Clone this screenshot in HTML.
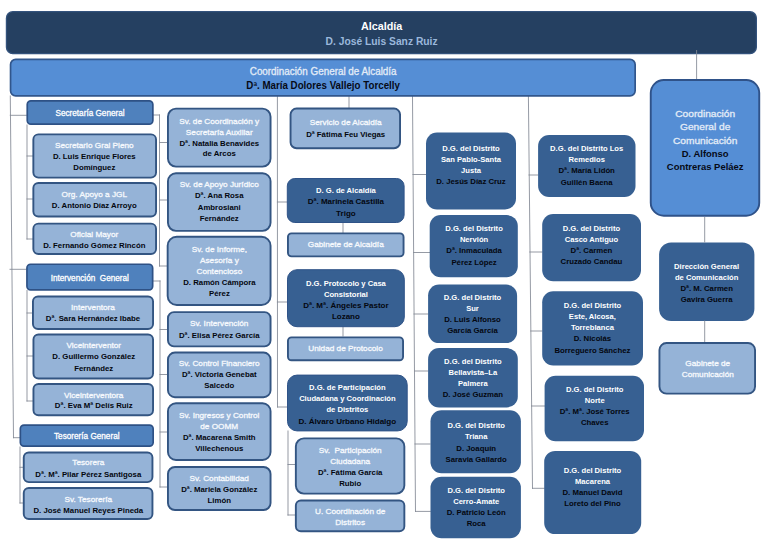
<!DOCTYPE html>
<html lang="es"><head><meta charset="utf-8"><title>Organigrama Alcaldía</title>
<style>
html,body{margin:0;padding:0;background:#fff;}
body{width:768px;height:543px;position:relative;overflow:hidden;font-family:"Liberation Sans",sans-serif;}
.b{position:absolute;}
.x{position:absolute;left:-30px;right:-30px;text-align:center;white-space:nowrap;}
.x span{display:block;transform-origin:50% 50%;}
.n{font-weight:700;}
svg{position:absolute;left:0;top:0;}
.alc{line-height:15.3px;}
.alc .t{color:#ffffff;font-weight:700;font-size:11.0px;transform:scaleX(0.98);}
.alc .n{color:#9bb8dc;font-size:11.0px;transform:scaleX(0.935);}
.cg{line-height:13.7px;}
.cg .t{color:#e3ecf7;font-weight:400;font-size:10.0px;transform:scaleX(0.985);-webkit-text-stroke:0.3px #e3ecf7;}
.cg .n{color:#060a16;font-size:10.0px;transform:scaleX(0.975);}
.sec{line-height:11.2px;}
.sec .t{color:#ffffff;font-weight:400;font-size:8.2px;transform:scaleX(1.0);-webkit-text-stroke:0.3px #fff;}
.sec .n{color:#000;font-size:8.2px;transform:scaleX(1.0);}
.lt{line-height:11.1px;}
.lt .t{color:#f6f9fd;font-weight:400;font-size:7.8px;transform:scaleX(1.055);-webkit-text-stroke:0.3px #f6f9fd;}
.lt .n{color:#04070f;font-size:7.7px;transform:scaleX(1.015);}
.dk{line-height:11.15px;}
.dk .t{color:#ffffff;font-weight:700;font-size:7.7px;transform:scaleX(0.99);}
.dk .n{color:#04070f;font-size:7.7px;transform:scaleX(1.01);}
.com{line-height:13.35px;}
.com .t{color:#e3ecf7;font-weight:400;font-size:9.6px;transform:scaleX(1.06);-webkit-text-stroke:0.3px #e3ecf7;}
.com .n{color:#060a16;font-size:9.6px;transform:scaleX(0.985);}
</style></head><body>
<svg width="768" height="543" viewBox="0 0 768 543">
<g stroke="#828894" stroke-width="0.85" fill="none" stroke-linecap="square">
<line x1="10.3" y1="96" x2="13.5" y2="437.7"/>
<line x1="13.5" y1="437.7" x2="19.5" y2="437.7"/>
<line x1="10.3" y1="115.3" x2="26.4" y2="115.3"/>
<line x1="10" y1="269.3" x2="26" y2="269.3"/>
<line x1="27" y1="125" x2="27" y2="239"/>
<line x1="27" y1="156" x2="33" y2="156"/>
<line x1="27" y1="199" x2="33" y2="199"/>
<line x1="27" y1="239" x2="33" y2="239"/>
<line x1="27" y1="290.5" x2="27" y2="401"/>
<line x1="27" y1="313" x2="33" y2="313"/>
<line x1="27" y1="356" x2="33" y2="356"/>
<line x1="27" y1="401" x2="33" y2="401"/>
<line x1="20" y1="447" x2="20" y2="503"/>
<line x1="20" y1="467.3" x2="23" y2="467.3"/>
<line x1="20" y1="503" x2="23" y2="503"/>
<line x1="153" y1="115" x2="159.5" y2="115"/>
<line x1="159.5" y1="115" x2="159.5" y2="266"/>
<line x1="159.5" y1="142.5" x2="167" y2="142.5"/>
<line x1="159.5" y1="200" x2="167" y2="200"/>
<line x1="159.5" y1="266" x2="167" y2="266"/>
<line x1="153" y1="281" x2="160" y2="281"/>
<line x1="160" y1="281" x2="160" y2="487"/>
<line x1="160" y1="329.5" x2="167" y2="329.5"/>
<line x1="160" y1="374.5" x2="167" y2="374.5"/>
<line x1="160" y1="432" x2="167" y2="432"/>
<line x1="160" y1="487" x2="167" y2="487"/>
<line x1="277.4" y1="96" x2="277.5" y2="407"/>
<line x1="277.4" y1="202" x2="287" y2="202"/>
<line x1="277.4" y1="302" x2="287" y2="302"/>
<line x1="277.5" y1="407" x2="287" y2="407"/>
<line x1="349" y1="96" x2="349" y2="107.5"/>
<line x1="343" y1="223" x2="343" y2="232.5"/>
<line x1="343" y1="327" x2="343" y2="336"/>
<line x1="288" y1="431" x2="288" y2="515"/>
<line x1="288" y1="464.5" x2="295" y2="464.5"/>
<line x1="288" y1="515" x2="295" y2="515"/>
<line x1="412.5" y1="96" x2="415.5" y2="511.4"/>
<line x1="413" y1="174.5" x2="426" y2="174.5"/>
<line x1="413.6" y1="252.5" x2="430" y2="252.5"/>
<line x1="414" y1="314" x2="428" y2="314"/>
<line x1="414.5" y1="371" x2="428" y2="371"/>
<line x1="415" y1="444" x2="430" y2="444"/>
<line x1="415.5" y1="511.4" x2="430.4" y2="511.4"/>
<line x1="528.4" y1="96" x2="532.5" y2="488.3"/>
<line x1="529" y1="175" x2="538" y2="175"/>
<line x1="529.8" y1="252" x2="542" y2="252"/>
<line x1="530.7" y1="331" x2="542" y2="331"/>
<line x1="531.5" y1="406" x2="544.5" y2="406"/>
<line x1="532.5" y1="488.3" x2="544.3" y2="488.3"/>
</g>
<rect x="6.45" y="11.65" width="749.9" height="41.9" rx="6.35" fill="#254061" stroke="#33527c" stroke-width="1.3"/>
<rect x="10.55" y="59.35" width="624.6" height="36.6" rx="5.15" fill="#558ed5" stroke="#31568c" stroke-width="1.7"/>
<rect x="27.25" y="100.85" width="125.6" height="23.3" rx="3.65" fill="#4f81bd" stroke="#2e5185" stroke-width="1.7"/>
<rect x="33.35" y="134.35" width="122.7" height="43.3" rx="5.05" fill="#95b3d7" stroke="#335582" stroke-width="1.9"/>
<rect x="33.35" y="182.95" width="122.7" height="33.6" rx="5.05" fill="#95b3d7" stroke="#335582" stroke-width="1.9"/>
<rect x="33.35" y="223.65" width="122.7" height="30.4" rx="5.05" fill="#95b3d7" stroke="#335582" stroke-width="1.9"/>
<rect x="26.95" y="264.25" width="125.7" height="25.6" rx="3.65" fill="#4f81bd" stroke="#2e5185" stroke-width="1.7"/>
<rect x="32.95" y="296.45" width="120.1" height="32.6" rx="5.05" fill="#95b3d7" stroke="#335582" stroke-width="1.9"/>
<rect x="33.45" y="334.45" width="119.6" height="44.0" rx="5.05" fill="#95b3d7" stroke="#335582" stroke-width="1.9"/>
<rect x="33.45" y="383.95" width="119.6" height="31.3" rx="5.05" fill="#95b3d7" stroke="#335582" stroke-width="1.9"/>
<rect x="20.35" y="425.15" width="132.8" height="21.0" rx="3.65" fill="#4f81bd" stroke="#2e5185" stroke-width="1.7"/>
<rect x="23.75" y="452.55" width="128.7" height="29.6" rx="5.05" fill="#95b3d7" stroke="#335582" stroke-width="1.9"/>
<rect x="23.75" y="487.95" width="128.7" height="31.1" rx="5.05" fill="#95b3d7" stroke="#335582" stroke-width="1.9"/>
<rect x="167.95" y="108.65" width="102.6" height="58.0" rx="8.05" fill="#95b3d7" stroke="#335582" stroke-width="1.9"/>
<rect x="167.95" y="173.25" width="102.6" height="57.6" rx="8.05" fill="#95b3d7" stroke="#335582" stroke-width="1.9"/>
<rect x="167.65" y="236.75" width="102.9" height="68.3" rx="9.05" fill="#95b3d7" stroke="#335582" stroke-width="1.9"/>
<rect x="167.95" y="312.15" width="102.6" height="34.2" rx="6.05" fill="#95b3d7" stroke="#335582" stroke-width="1.9"/>
<rect x="167.95" y="352.55" width="102.6" height="44.7" rx="7.05" fill="#95b3d7" stroke="#335582" stroke-width="1.9"/>
<rect x="167.95" y="403.25" width="102.6" height="56.8" rx="8.05" fill="#95b3d7" stroke="#335582" stroke-width="1.9"/>
<rect x="167.95" y="466.95" width="102.6" height="43.1" rx="7.05" fill="#95b3d7" stroke="#335582" stroke-width="1.9"/>
<rect x="290.55" y="108.55" width="109.5" height="39.7" rx="6.05" fill="#95b3d7" stroke="#335582" stroke-width="1.9"/>
<rect x="287.3" y="178.5" width="116.8" height="44" rx="7.5" fill="#376092" stroke="#2f5388" stroke-width="1"/>
<rect x="287.95" y="233.35" width="115.6" height="23.0" rx="3.55" fill="#95b3d7" stroke="#335582" stroke-width="1.9"/>
<rect x="287.5" y="269.7" width="116.8" height="57.0" rx="9.5" fill="#376092" stroke="#2f5388" stroke-width="1"/>
<rect x="287.95" y="337.35" width="115.1" height="22.9" rx="3.55" fill="#95b3d7" stroke="#335582" stroke-width="1.9"/>
<rect x="287.5" y="375.1" width="119.7" height="55.8" rx="9.5" fill="#376092" stroke="#2f5388" stroke-width="1"/>
<rect x="295.85" y="438.35" width="108.5" height="55.3" rx="8.05" fill="#95b3d7" stroke="#335582" stroke-width="1.9"/>
<rect x="295.85" y="500.55" width="108.5" height="30.7" rx="5.05" fill="#95b3d7" stroke="#335582" stroke-width="1.9"/>
<rect x="426" y="132.5" width="90" height="77.0" rx="11" fill="#376092"/>
<rect x="429.7" y="215.1" width="88.1" height="62.2" rx="11" fill="#376092"/>
<rect x="428.1" y="284.6" width="89.0" height="58.5" rx="11" fill="#376092"/>
<rect x="428.1" y="348.1" width="89.7" height="59.3" rx="11" fill="#376092"/>
<rect x="430.5" y="410.2" width="90.4" height="63.1" rx="11" fill="#376092"/>
<rect x="430.5" y="476.8" width="90.4" height="61.4" rx="11" fill="#376092"/>
<rect x="538.1" y="135" width="97.4" height="62" rx="11" fill="#376092"/>
<rect x="542.2" y="214" width="98.8" height="67.3" rx="11" fill="#376092"/>
<rect x="542.2" y="291.3" width="100.8" height="74.2" rx="11" fill="#376092"/>
<rect x="544.6" y="375.7" width="99.4" height="65.6" rx="11" fill="#376092"/>
<rect x="544.2" y="450.9" width="97.0" height="83.2" rx="11" fill="#376092"/>
<rect x="650.75" y="80.05" width="108.5" height="135.7" rx="13.05" fill="#558ed5" stroke="#2f5289" stroke-width="1.9"/>
<rect x="659.1" y="242.6" width="95.3" height="78.3" rx="12" fill="#376092"/>
<rect x="659.45" y="343.05" width="95.6" height="50.6" rx="7.05" fill="#95b3d7" stroke="#335582" stroke-width="1.9"/>
<g stroke="#828894" stroke-width="0.85" fill="none">
<line x1="696.6" y1="50" x2="696.6" y2="79"/>
<line x1="704.7" y1="217" x2="704.7" y2="242.5"/>
<line x1="704.7" y1="320.5" x2="704.7" y2="342"/>
</g></svg>
<div class="b alc" style="left:5.8px;top:11px;width:751.2px;height:43.2px;"><div class="x" style="top:7.8px"><span class="t">Alcaldía</span><span class="n">D. José Luis Sanz Ruiz</span></div></div>
<div class="b cg" style="left:9.7px;top:58.5px;width:626.3px;height:38.3px;"><div class="x" style="top:6.5px"><span class="t">Coordinación General de Alcaldía</span><span class="n">Dª. María Dolores Vallejo Torcelly</span></div></div>
<div class="b sec" style="left:26.4px;top:100px;width:127.3px;height:25px;"><div class="x" style="top:7.61px"><span class="t">Secretaría General</span></div></div>
<div class="b lt" style="left:32.4px;top:133.4px;width:124.6px;height:45.2px;line-height:10.8px;"><div class="x" style="top:7.92px"><span class="t">Secretario Gral Pleno</span><span class="n">D. Luis Enrique Flores</span><span class="n">Domínguez</span></div></div>
<div class="b lt" style="left:32.4px;top:182px;width:124.6px;height:35.5px;"><div class="x" style="top:7.31px"><span class="t">Org. Apoyo a JGL</span><span class="n">D. Antonio Díaz Arroyo</span></div></div>
<div class="b lt" style="left:32.4px;top:222.7px;width:124.6px;height:32.3px;line-height:10.6px;"><div class="x" style="top:7.32px"><span class="t">Oficial Mayor</span><span class="n">D. Fernando Gómez Rincón</span></div></div>
<div class="b sec" style="left:26.1px;top:263.4px;width:127.4px;height:27.3px;"><div class="x" style="top:9.12px"><span class="t">Intervención&nbsp; General</span></div></div>
<div class="b lt" style="left:32px;top:295.5px;width:122px;height:34.5px;line-height:10.6px;"><div class="x" style="top:7.51px"><span class="t">Interventora</span><span class="n">Dª. Sara Hernández Ibabe</span></div></div>
<div class="b lt" style="left:32.5px;top:333.5px;width:121.5px;height:45.9px;"><div class="x" style="top:6.9px"><span class="t">Viceinterventor</span><span class="n">D. Guillermo González</span><span class="n">Fernández</span></div></div>
<div class="b lt" style="left:32.5px;top:383px;width:121.5px;height:33.2px;line-height:10.8px;"><div class="x" style="top:7.61px"><span class="t">Viceinterventora</span><span class="n">Dª. Eva Mª Delís Ruiz</span></div></div>
<div class="b sec" style="left:19.5px;top:424.3px;width:134.5px;height:22.7px;"><div class="x" style="top:6.42px"><span class="t">Tesorería General</span></div></div>
<div class="b lt" style="left:22.8px;top:451.6px;width:130.6px;height:31.5px;"><div class="x" style="top:5.82px"><span class="t">Tesorera</span><span class="n">Dª. Mª. Pilar Pérez Santigosa</span></div></div>
<div class="b lt" style="left:22.8px;top:487px;width:130.6px;height:33px;"><div class="x" style="top:6.51px"><span class="t">Sv. Tesorería</span><span class="n">D. José Manuel Reyes Pineda</span></div></div>
<div class="b lt" style="left:167px;top:107.7px;width:104.5px;height:59.9px;line-height:10.8px;"><div class="x" style="top:9.32px"><span class="t">Sv. de Coordinación y</span><span class="t">Secretaría Auxiliar</span><span class="n">Dª. Natalia Benavides</span><span class="n">de Arcos</span></div></div>
<div class="b lt" style="left:167px;top:172.3px;width:104.5px;height:59.5px;line-height:11.2px;"><div class="x" style="top:6.92px"><span class="t">Sv. de Apoyo Jurídico</span><span class="n">Dª. Ana Rosa</span><span class="n">Ambrosiani</span><span class="n">Fernández</span></div></div>
<div class="b lt" style="left:166.7px;top:235.8px;width:104.8px;height:70.2px;"><div class="x" style="top:8.21px"><span class="t">Sv. de Informe,</span><span class="t">Asesoría y</span><span class="t">Contencioso</span><span class="n">D. Ramón Cámpora</span><span class="n">Pérez</span></div></div>
<div class="b lt" style="left:167px;top:311.2px;width:104.5px;height:36.1px;line-height:11.3px;"><div class="x" style="top:7.12px"><span class="t">Sv. Intervención</span><span class="n">Dª. Elisa Pérez García</span></div></div>
<div class="b lt" style="left:167px;top:351.6px;width:104.5px;height:46.6px;"><div class="x" style="top:6.41px"><span class="t">Sv. Control Financiero</span><span class="n">Dª. Victoria Genebat</span><span class="n">Salcedo</span></div></div>
<div class="b lt" style="left:167px;top:402.3px;width:104.5px;height:58.7px;"><div class="x" style="top:7.31px"><span class="t">Sv. Ingresos y Control</span><span class="t">de OOMM</span><span class="n">Dª. Macarena Smith</span><span class="n">Villechenous</span></div></div>
<div class="b lt" style="left:167px;top:466px;width:104.5px;height:45px;line-height:11.2px;"><div class="x" style="top:7.0px"><span class="t">Sv. Contabilidad</span><span class="n">Dª. Mariela González</span><span class="n">Limón</span></div></div>
<div class="b lt" style="left:289.6px;top:107.6px;width:111.4px;height:41.6px;line-height:11.6px;"><div class="x" style="top:9.32px"><span class="t">Servicio de Alcaldía</span><span class="n">Dª Fátima Feu Viegas</span></div></div>
<div class="b dk" style="left:286.8px;top:178px;width:117.8px;height:45px;"><div class="x" style="top:7.3px"><span class="t">D. G. de Alcaldía</span><span class="n" style="transform:scaleX(1.04)">Dª. Marinela Castilla</span><span class="n" style="transform:scaleX(1.04)">Trigo</span></div></div>
<div class="b lt" style="left:287px;top:232.4px;width:117.5px;height:24.9px;"><div class="x" style="top:6.12px"><span class="t">Gabinete de Alcaldía</span></div></div>
<div class="b dk" style="left:287px;top:269.2px;width:117.8px;height:58.0px;line-height:11.07px;"><div class="x" style="top:8.32px"><span class="t">D.G. Protocolo y Casa</span><span class="t">Consistorial</span><span class="n" style="transform:scaleX(1.04)">Dª. Mª. Ángeles Pastor</span><span class="n" style="transform:scaleX(1.04)">Lozano</span></div></div>
<div class="b lt" style="left:287px;top:336.4px;width:117px;height:24.8px;"><div class="x" style="top:6.82px"><span class="t">Unidad de Protocolo</span></div></div>
<div class="b dk" style="left:287px;top:374.6px;width:120.7px;height:56.8px;line-height:11.27px;"><div class="x" style="top:7.22px"><span class="t">D.G. de Participación</span><span class="t">Ciudadana y Coordinación</span><span class="t">de Distritos</span><span class="n" style="transform:scaleX(1.05)">D. Álvaro Urbano Hidalgo</span></div></div>
<div class="b lt" style="left:294.9px;top:437.4px;width:110.4px;height:57.2px;line-height:10.9px;"><div class="x" style="top:8.92px"><span class="t">Sv.&nbsp; Participación</span><span class="t">Ciudadana</span><span class="n">Dª. Fátima García</span><span class="n">Rubio</span></div></div>
<div class="b lt" style="left:294.9px;top:499.6px;width:110.4px;height:32.6px;line-height:10.6px;"><div class="x" style="top:7.51px"><span class="t">U. Coordinación de</span><span class="t">Distritos</span></div></div>
<div class="b dk" style="left:426px;top:132.5px;width:90px;height:77.0px;"><div class="x" style="top:10.12px"><span class="t">D.G. del Distrito</span><span class="t">San Pablo-Santa</span><span class="t">Justa</span><span class="n">D. Jesús Díaz Cruz</span></div></div>
<div class="b dk" style="left:429.7px;top:215.1px;width:88.1px;height:62.2px;"><div class="x" style="top:8.02px"><span class="t">D.G. del Distrito</span><span class="t">Nervión</span><span class="n">Dª. Inmaculada</span><span class="n">Pérez López</span></div></div>
<div class="b dk" style="left:428.1px;top:284.6px;width:89.0px;height:58.5px;line-height:11.05px;"><div class="x" style="top:7.61px"><span class="t">D.G. del Distrito</span><span class="t">Sur</span><span class="n">D. Luis Alfonso</span><span class="n">García García</span></div></div>
<div class="b dk" style="left:428.1px;top:348.1px;width:89.7px;height:59.3px;line-height:11.2px;"><div class="x" style="top:7.51px"><span class="t">D.G. del Distrito</span><span class="t">Bellavista–La</span><span class="t">Palmera</span><span class="n">D. José Guzman</span></div></div>
<div class="b dk" style="left:430.5px;top:410.2px;width:90.4px;height:63.1px;line-height:11.1px;"><div class="x" style="top:10.13px"><span class="t">D.G. del Distrito</span><span class="t">Triana</span><span class="n">D. Joaquín</span><span class="n">Saravia Gallardo</span></div></div>
<div class="b dk" style="left:430.5px;top:476.8px;width:90.4px;height:61.4px;line-height:11.1px;"><div class="x" style="top:7.81px"><span class="t">D.G. del Distrito</span><span class="t">Cerro-Amate</span><span class="n">D. Patricio León</span><span class="n">Roca</span></div></div>
<div class="b dk" style="left:538.1px;top:135px;width:97.4px;height:62px;line-height:11.35px;"><div class="x" style="top:7.81px"><span class="t">D.G. del Distrito Los</span><span class="t">Remedios</span><span class="n">Dª. María Lidón</span><span class="n">Guillén Baena</span></div></div>
<div class="b dk" style="left:542.2px;top:214px;width:98.8px;height:67.3px;line-height:11.25px;"><div class="x" style="top:8.51px"><span class="t">D.G. del Distrito</span><span class="t">Casco Antiguo</span><span class="n">Dª. Carmen</span><span class="n">Cruzado Candau</span></div></div>
<div class="b dk" style="left:542.2px;top:291.3px;width:100.8px;height:74.2px;line-height:11.17px;"><div class="x" style="top:8.52px"><span class="t">D.G. del Distrito</span><span class="t">Este, Alcosa,</span><span class="t">Torreblanca</span><span class="n">D. Nicolás</span><span class="n">Borreguero Sánchez</span></div></div>
<div class="b dk" style="left:544.6px;top:375.7px;width:99.4px;height:65.6px;line-height:11.0px;"><div class="x" style="top:8.33px"><span class="t">D.G. del Distrito</span><span class="t">Norte</span><span class="n">Dª. Mª. José Torres</span><span class="n">Chaves</span></div></div>
<div class="b dk" style="left:544.2px;top:450.9px;width:97.0px;height:83.2px;line-height:11.07px;"><div class="x" style="top:13.71px"><span class="t">D.G. del Distrito</span><span class="t">Macarena</span><span class="n">D. Manuel David</span><span class="n">Loreto del Pino</span></div></div>
<div class="b com" style="left:649.8px;top:79.1px;width:110.4px;height:137.6px;"><div class="x" style="top:27.91px"><span class="t">Coordinación</span><span class="t">General de</span><span class="t">Comunicación</span><span class="n">D. Alfonso</span><span class="n">Contreras Peláez</span></div></div>
<div class="b dk" style="left:659.1px;top:242.6px;width:95.3px;height:78.3px;line-height:11.13px;"><div class="x" style="top:17.91px"><span class="t">Dirección General</span><span class="t">de Comunicación</span><span class="n">Dª. M. Carmen</span><span class="n">Gavira Guerra</span></div></div>
<div class="b lt" style="left:658.5px;top:342.1px;width:97.5px;height:52.5px;line-height:11.3px;"><div class="x" style="top:15.72px"><span class="t">Gabinete de</span><span class="t">Comunicación</span></div></div>
</body></html>
